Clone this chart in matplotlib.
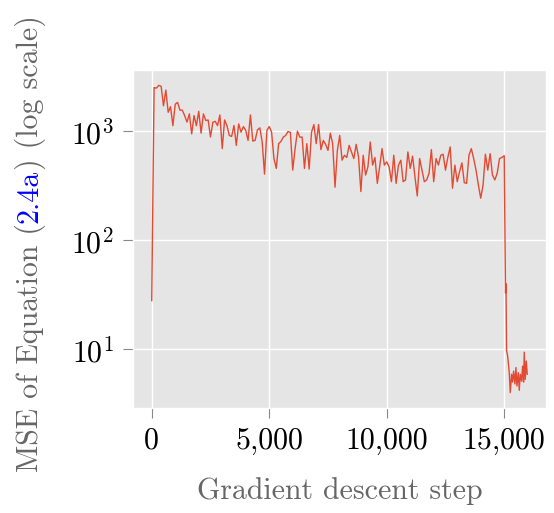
import matplotlib
matplotlib.use("Agg")
import matplotlib.pyplot as plt
from matplotlib.ticker import FuncFormatter, NullLocator

plt.style.use("ggplot")
plt.rcParams["font.family"] = "serif"
plt.rcParams["font.serif"] = ["cmr10"]
plt.rcParams["mathtext.fontset"] = "cm"
plt.rcParams["axes.formatter.use_mathtext"] = True

# MSE, one point every 100 steps from 0 to 15,000
steps_main = list(range(0, 15001, 100))
mse_main = [
    28, 2530, 2500, 2650, 2600, 1720, 2400, 1500, 1690, 1130,
    1780, 1850, 1570, 1570, 1400, 1220, 1450, 950, 1400, 1130,
    1530, 966, 1450, 1260, 1276, 890, 1216, 1240, 1134, 1418,
    696, 1276, 1134, 920, 900, 1134, 746, 1174, 986, 1110,
    1021, 828, 1418, 817, 828, 1036, 1080, 800, 406, 1021,
    1110, 986, 564, 458, 773, 811, 888, 920, 1000, 980,
    442, 696, 1007, 888, 888, 458, 773, 452, 986, 1158,
    773, 1158, 681, 828, 762, 671, 966, 773, 308, 671,
    920, 545, 605, 577, 746, 649, 564, 762, 585, 281,
    605, 398, 474, 800, 491, 577, 334, 474, 696, 491,
    526, 474, 346, 605, 334, 491, 545, 346, 359, 649,
    458, 593, 385, 256, 564, 442, 346, 359, 412, 681,
    346, 564, 491, 605, 618, 442, 577, 721, 301, 491,
    346, 427, 515, 339, 334, 605, 696, 564, 442, 323,
    244, 323, 618, 442, 626, 398, 359, 412, 564, 577,
    600,
]

# the drop after step 15,000
steps_tail = [15030, 15055, 15075, 15100, 15145, 15215, 15258, 15314, 15357,
              15399, 15456, 15498, 15541, 15598, 15640, 15683, 15739, 15781,
              15824, 15853, 15895, 15938, 15980]
mse_tail = [118, 33, 40, 9.7, 8.7, 6.1, 4.0, 5.9, 5.0,
            6.3, 4.8, 6.8, 4.6, 6.1, 4.2, 5.9, 5.1, 7.0,
            5.0, 9.4, 5.3, 7.8, 5.9]

steps = steps_main + steps_tail
mse = mse_main + mse_tail

fig = plt.figure(figsize=(5.54, 5.13), dpi=100)
fig.patch.set_facecolor("white")
ax = fig.add_axes([0.240, 0.2047, 0.7456, 0.6588])

ax.plot(steps, mse, color="#E24A33", linewidth=1.0)
ax.set_yscale("log")
ax.yaxis.set_minor_locator(NullLocator())
ax.xaxis.set_major_formatter(FuncFormatter(lambda v, p: f"{int(v):,}"))
ax.set_xticks([0, 5000, 10000, 15000])

ax.tick_params(axis="both", which="major", labelsize=21.5, length=7,
               color="#888888", labelcolor="black", pad=7)
ax.grid(True, color="white", linewidth=1.0)

ax.set_xlabel("Gradient descent step", fontsize=21.5, color="#666666",
              labelpad=16)

# y label in three pieces so "2.4a" can be blue
fig.canvas.draw()
r = fig.canvas.get_renderer()
pieces = [("MSE of Equation (", "#666666"), ("2.4a", "blue"),
          (") (log scale)", "#666666")]
texts = []
total = 0
for s, c in pieces:
    t = fig.text(0, 0, s, rotation=90, fontsize=21.5, color=c,
                 ha="center", va="bottom")
    h = t.get_window_extent(r).height
    texts.append((t, h))
    total += h
y = (269.5 - total / 2) / 513
for t, h in texts:
    t.set_position((30 / 554, y))
    y += h / 513

fig.savefig("out.png", dpi=100)
